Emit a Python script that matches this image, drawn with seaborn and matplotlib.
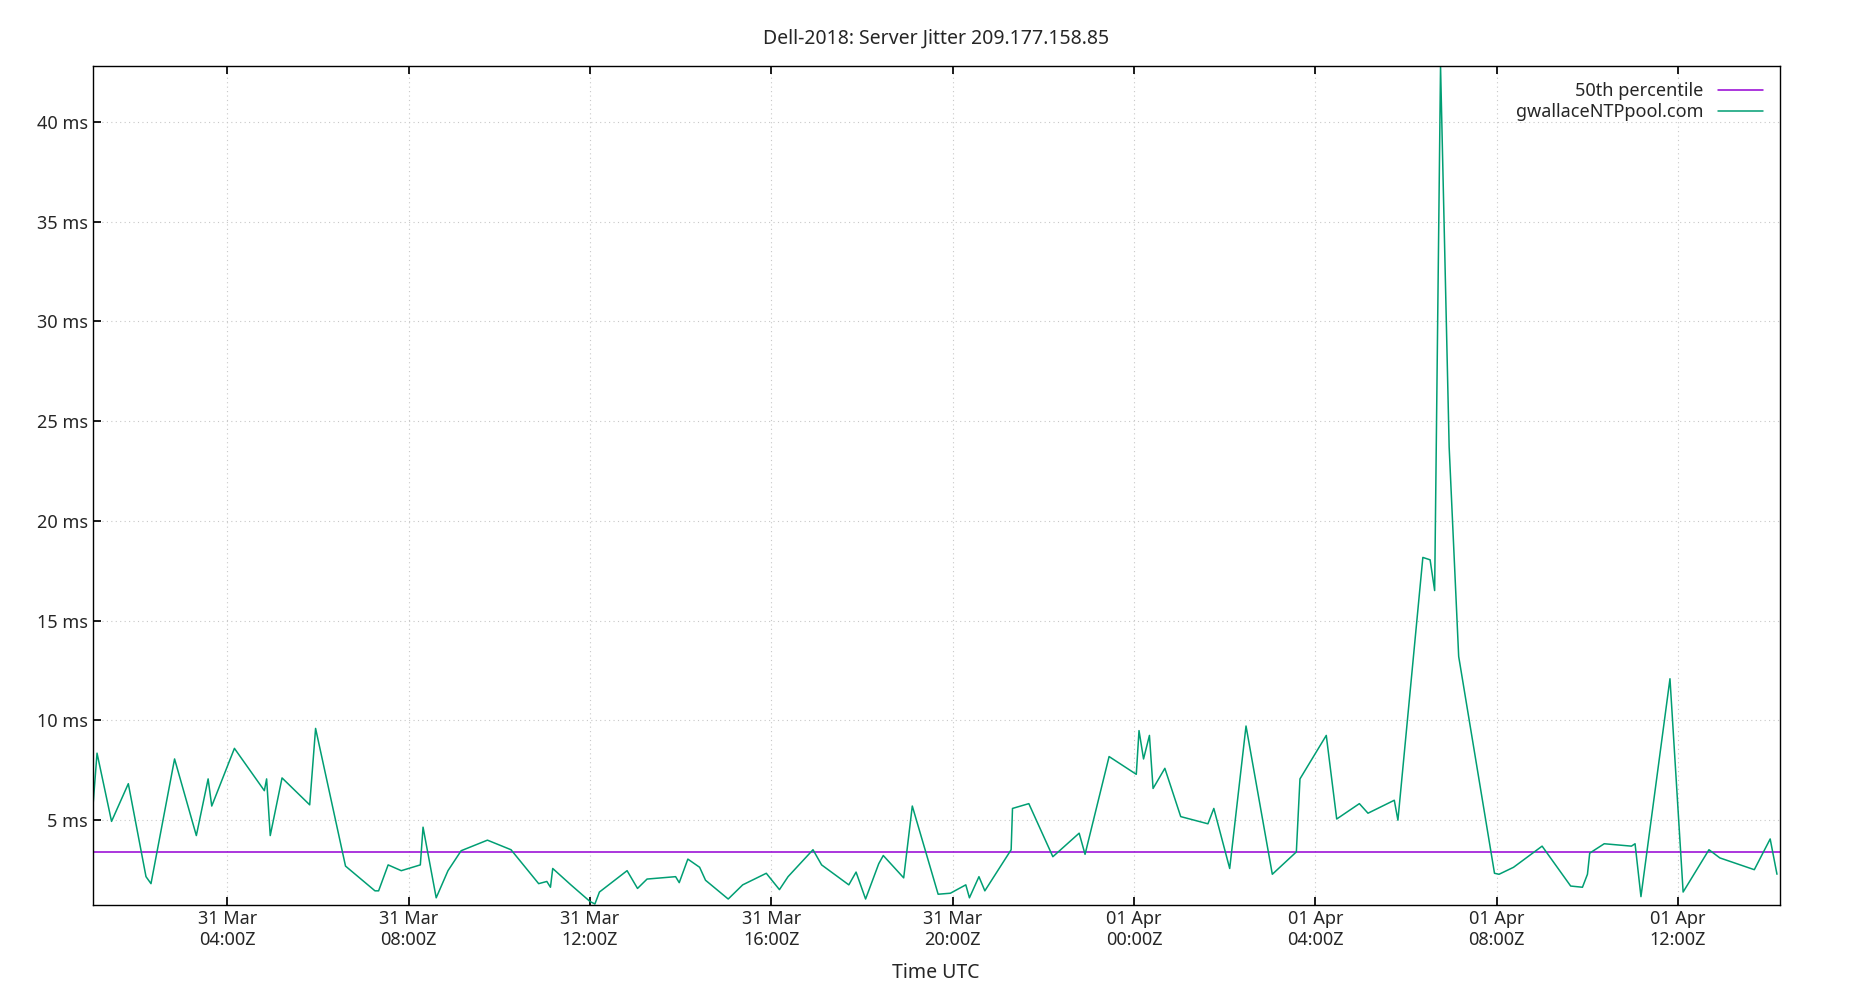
import matplotlib
matplotlib.use("Agg")
import matplotlib.pyplot as plt
import matplotlib.dates as mdates
import seaborn as sns
import pandas as pd
import numpy as np

hours = [1.03,1.13,1.45,1.82,2.21,2.32,2.84,3.32,3.58,3.66,4.16,4.82,4.87,4.95,5.21,5.82,5.95,6.61,7.26,7.34,7.55,7.84,8.26,8.32,8.61,8.87,9.16,9.74,10.26,10.87,11.05,11.13,11.18,11.58,12.00,12.11,12.21,12.82,13.05,13.26,13.89,13.97,14.16,14.42,14.55,15.05,15.37,15.89,16.18,16.37,16.92,17.11,17.71,17.87,18.08,18.37,18.47,18.92,19.11,19.68,19.95,20.29,20.37,20.58,20.71,21.29,21.32,21.68,22.21,22.79,22.92,23.45,24.05,24.11,24.21,24.34,24.42,24.68,25.03,25.63,25.76,26.11,26.47,27.05,27.58,27.66,28.24,28.47,28.97,29.16,29.74,29.82,30.37,30.53,30.63,30.76,30.95,31.16,31.95,32.05,32.37,33.00,33.63,33.89,34.00,34.05,34.37,34.97,35.05,35.18,35.82,36.11,36.68,36.92,37.68,38.03,38.18]
jitter_ms = [5.41,8.36,4.94,6.83,2.17,1.82,8.07,4.23,7.07,5.71,8.60,6.48,7.07,4.23,7.12,5.77,9.60,2.70,1.46,1.46,2.76,2.47,2.76,4.65,1.11,2.47,3.47,4.00,3.52,1.82,1.93,1.64,2.58,1.76,0.93,0.80,1.40,2.47,1.58,2.05,2.17,1.87,3.05,2.64,1.99,1.05,1.76,2.34,1.52,2.17,3.52,2.76,1.76,2.40,1.05,2.82,3.23,2.11,5.71,1.29,1.34,1.76,1.11,2.17,1.46,3.52,5.59,5.83,3.17,4.35,3.29,8.19,7.30,9.49,8.07,9.25,6.59,7.60,5.18,4.82,5.59,2.58,9.72,2.29,3.41,7.07,9.25,5.06,5.83,5.35,6.00,5.00,18.17,18.05,16.51,42.8,23.71,13.21,2.34,2.29,2.64,3.70,1.70,1.64,2.29,3.35,3.82,3.70,3.82,1.17,12.09,1.40,3.52,3.11,2.52,4.06,2.29]
median_ms = 3.4
yticks = [5, 10, 15, 20, 25, 30, 35, 40]

base = pd.Timestamp("2025-03-31 00:00")
df = pd.DataFrame({"time": [base + pd.Timedelta(hours=h) for h in hours], "jitter": jitter_ms})

sns.set_theme(style="white")
plt.rcParams['font.family'] = ['Noto Sans', 'DejaVu Sans']

fig = plt.figure(figsize=(18.5, 10), dpi=100)
ax = fig.add_axes([0.05, 0.095, 0.912, 0.839])
xmin = base + pd.Timedelta(hours=1.03)
xmax = base + pd.Timedelta(hours=38.24)
ax.plot([xmin, xmax], [median_ms, median_ms], color="#9400d3", lw=1.1, label="50th percentile")
sns.lineplot(data=df, x="time", y="jitter", ax=ax, color="#009e73", lw=1.1, label="gwallaceNTPpool.com")
ax.set_xlim(xmin, xmax)
ax.set_ylim(0.75, 42.8)
ax.set_yticks(yticks)
ax.set_yticklabels([f"{v} ms" for v in yticks], fontsize=13)
ax.xaxis.set_major_locator(mdates.HourLocator(byhour=[0, 4, 8, 12, 16, 20]))
ax.xaxis.set_major_formatter(mdates.DateFormatter("%d %b\n%H:%MZ"))
for lab in ax.get_xticklabels():
    lab.set_fontsize(13)
ax.tick_params(axis="both", direction="in", length=6, color="black", left=True, bottom=True, top=True, right=False)
ax.grid(True, color="#c8c8c8", ls=(0, (1, 3)), lw=0.8)
for s in ax.spines.values():
    s.set_color("black"); s.set_linewidth(1)
ax.set_xlabel("Time UTC", fontsize=14, labelpad=10)
ax.set_ylabel("")
ax.set_title("Dell-2018: Server Jitter 209.177.158.85", fontsize=14, pad=16)
ax.legend(loc="upper right", frameon=False, markerfirst=False, fontsize=13, handlelength=2.5, borderaxespad=0.5, labelspacing=0.15)
fig.savefig("out.png", dpi=100)
